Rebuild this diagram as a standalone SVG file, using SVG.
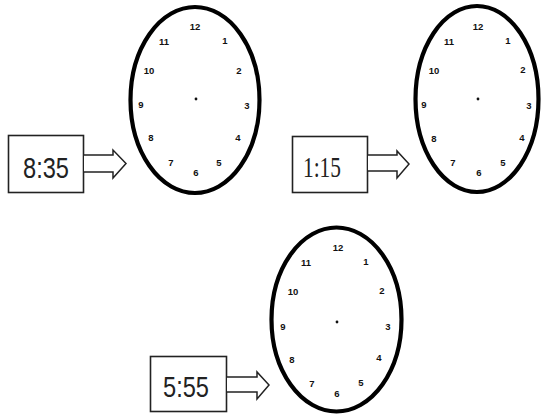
<svg xmlns="http://www.w3.org/2000/svg" width="542" height="414" viewBox="0 0 542 414">
<style>
.face{fill:#fff;stroke:#000;stroke-width:4.2}
.num{font-family:"Liberation Sans",Arial,sans-serif;font-weight:bold;font-size:9.5px;fill:#111;text-anchor:middle;dominant-baseline:central}
.box{fill:#fff;stroke:#222;stroke-width:1.6}
.lbl{font-family:"Liberation Sans",Arial,sans-serif;font-size:29px;fill:#222}
.lbls{font-family:"Liberation Serif","Times New Roman",serif;font-size:30px;fill:#222}
.arr{fill:#fff;stroke:#222;stroke-width:1.5;stroke-linejoin:miter}
</style>
<rect width="542" height="414" fill="#fff"/>
<g id="clock1">
<ellipse class="face" cx="195" cy="100" rx="64.5" ry="93"/>
<text class="num" x="195" y="26">12</text>
<text class="num" x="225" y="40">1</text>
<text class="num" x="239" y="70">2</text>
<text class="num" x="247" y="105">3</text>
<text class="num" x="238" y="137">4</text>
<text class="num" x="219" y="162">5</text>
<text class="num" x="196" y="172">6</text>
<text class="num" x="171" y="162">7</text>
<text class="num" x="151" y="137">8</text>
<text class="num" x="141" y="104">9</text>
<text class="num" x="149" y="70">10</text>
<text class="num" x="164" y="41">11</text>
<circle cx="196" cy="99" r="1.4" fill="#111"/>
</g>
<g id="clock2">
<ellipse class="face" cx="477" cy="99" rx="61.5" ry="93"/>
<text class="num" x="478" y="26">12</text>
<text class="num" x="508" y="40">1</text>
<text class="num" x="523" y="69">2</text>
<text class="num" x="529" y="105">3</text>
<text class="num" x="522" y="137">4</text>
<text class="num" x="503" y="162">5</text>
<text class="num" x="479" y="172">6</text>
<text class="num" x="453" y="162">7</text>
<text class="num" x="434" y="138">8</text>
<text class="num" x="424" y="104">9</text>
<text class="num" x="434" y="70">10</text>
<text class="num" x="449" y="41">11</text>
<circle cx="478" cy="99" r="1.4" fill="#111"/>
</g>
<g id="clock3">
<ellipse class="face" cx="336.5" cy="319.5" rx="65" ry="92"/>
<text class="num" x="338" y="247">12</text>
<text class="num" x="366" y="261">1</text>
<text class="num" x="382" y="290">2</text>
<text class="num" x="388" y="326">3</text>
<text class="num" x="379" y="357">4</text>
<text class="num" x="361" y="382">5</text>
<text class="num" x="337" y="393">6</text>
<text class="num" x="312" y="383">7</text>
<text class="num" x="292" y="359">8</text>
<text class="num" x="283" y="326">9</text>
<text class="num" x="293" y="291">10</text>
<text class="num" x="306" y="262">11</text>
<circle cx="337" cy="322" r="1.4" fill="#111"/>
</g>
<g id="box1">
<rect class="box" x="8.5" y="135.5" width="75" height="57"/>
<text class="lbl" x="23" y="178" textLength="46" lengthAdjust="spacingAndGlyphs">8:35</text>
</g>
<g id="box2">
<rect class="box" x="292.5" y="136.5" width="75" height="56"/>
<text class="lbls" x="303" y="177" textLength="38" lengthAdjust="spacingAndGlyphs">1:15</text>
</g>
<g id="box3">
<rect class="box" x="150.5" y="356.5" width="76" height="55"/>
<text class="lbl" x="163" y="397" textLength="46" lengthAdjust="spacingAndGlyphs">5:55</text>
</g>
<g id="connectors">
<path class="arr" d="M84,155 H113 V150 L126,163.5 L113,178 V172 H84"/>
<path class="arr" d="M368,155 H397 V151 L409,164 L397,178 V171 H368"/>
<path class="arr" d="M227,377 H257 V372 L269,385 L257,399 V392 H227"/>
</g>
</svg>
